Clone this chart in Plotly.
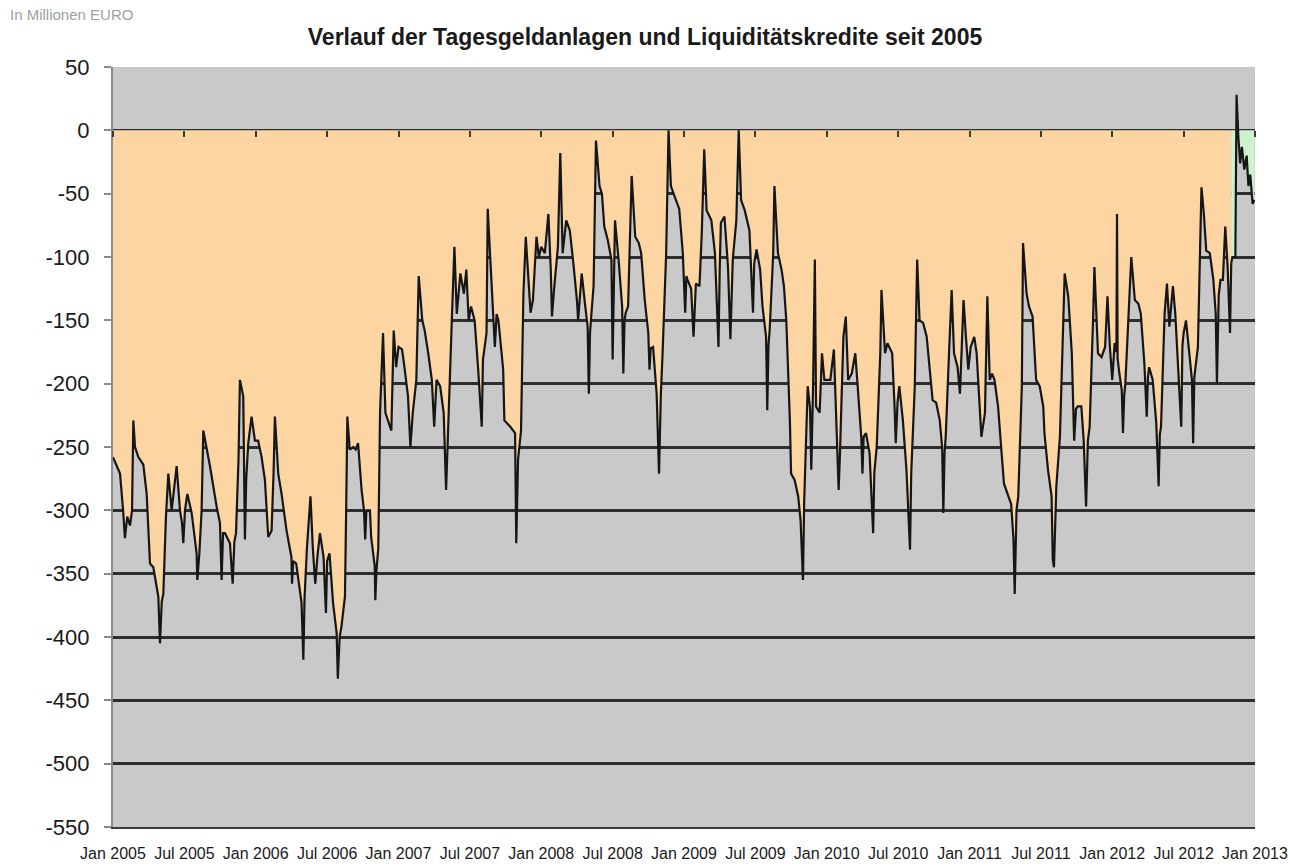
import plotly.graph_objects as go

# x = months since Jan 2005, values in million EUR
t_main = [
    0.0, 0.17, 0.59, 0.85, 1.0, 1.2, 1.43, 1.6, 1.71, 1.85, 2.13, 2.55, 2.83, 3.11, 3.39, 3.81, 3.95, 4.1,
    4.23, 4.45, 4.65, 4.93, 5.15, 5.35, 5.63, 5.8, 5.91, 6.05, 6.25, 6.61, 7.03, 7.09, 7.26, 7.45, 7.59, 7.87,
    8.15, 8.71, 8.99, 9.13, 9.25, 9.41, 9.83, 10.06, 10.2, 10.34, 10.55, 10.67, 10.95, 11.09, 11.2, 11.37,
    11.65, 11.93, 12.2, 12.49, 12.77, 13.05, 13.33, 13.5, 13.61, 13.89, 14.17, 14.59, 15.0, 15.05, 15.15,
    15.4, 15.85, 16.0, 16.1, 16.3, 16.6, 16.8, 17.0, 17.2, 17.4, 17.7, 17.9, 18.0, 18.2, 18.5, 18.8, 18.9,
    19.05, 19.2, 19.5, 19.6, 19.7, 19.9, 20.2, 20.4, 20.6, 20.9, 21.1, 21.2, 21.3, 21.6, 21.7, 22.0, 22.05,
    22.15, 22.3, 22.45, 22.7, 22.9, 23.1, 23.4, 23.6, 23.8, 24.0, 24.3, 24.5, 24.8, 25.0, 25.2, 25.5, 25.7,
    26.0, 26.2, 26.5, 26.8, 27.0, 27.2, 27.5, 27.8, 28.0, 28.2, 28.5, 28.7, 28.9, 29.2, 29.5, 29.7, 29.9,
    30.1, 30.4, 30.7, 31.0, 31.1, 31.4, 31.5, 31.7, 31.96, 32.1, 32.25, 32.4, 32.8, 32.9, 33.4, 33.8, 33.9,
    34.05, 34.3, 34.5, 34.7, 35.0, 35.1, 35.3, 35.6, 35.8, 36.0, 36.3, 36.6, 36.8, 36.9, 37.1, 37.4, 37.6,
    37.8, 38.1, 38.4, 38.7, 39.0, 39.1, 39.4, 39.7, 39.9, 40.0, 40.1, 40.2, 40.4, 40.6, 40.9, 41.1, 41.3,
    41.6, 41.9, 42.0, 42.1, 42.2, 42.5, 42.8, 42.9, 43.0, 43.1, 43.3, 43.6, 43.9, 44.2, 44.4, 44.7, 45.0,
    45.1, 45.2, 45.4, 45.7, 45.9, 46.05, 46.2, 46.5, 46.7, 46.9, 47.2, 47.6, 47.9, 48.1, 48.2, 48.3, 48.6,
    48.8, 49.0, 49.3, 49.5, 49.7, 49.9, 50.3, 50.6, 50.9, 51.0, 51.1, 51.4, 51.7, 51.9, 52.0, 52.1, 52.4,
    52.6, 52.8, 53.1, 53.5, 53.8, 53.9, 54.1, 54.4, 54.6, 54.9, 55.0, 55.1, 55.2, 55.5, 55.6, 55.9, 56.2,
    56.4, 56.6, 56.9, 57.0, 57.3, 57.6, 57.8, 58.0, 58.1, 58.4, 58.6, 58.7, 58.85, 59.0, 59.1, 59.4, 59.6,
    59.8, 60.1, 60.3, 60.6, 60.8, 60.9, 61.0, 61.1, 61.4, 61.6, 61.8, 62.1, 62.4, 62.6, 62.9, 63.0, 63.1,
    63.3, 63.6, 63.9, 64.0, 64.2, 64.5, 64.6, 64.9, 65.1, 65.5, 65.7, 65.8, 65.95, 66.1, 66.4, 66.7, 67.0,
    67.1, 67.4, 67.6, 67.8, 68.1, 68.4, 68.6, 68.9, 69.2, 69.5, 69.7, 69.8, 69.9, 70.0, 70.3, 70.5, 70.7,
    71.0, 71.2, 71.5, 71.7, 71.9, 72.1, 72.4, 72.6, 72.9, 73.0, 73.3, 73.5, 73.7, 73.9, 74.1, 74.4, 74.7,
    74.9, 75.2, 75.5, 75.7, 75.8, 75.95, 76.1, 76.4, 76.5, 76.8, 77.0, 77.3, 77.6, 77.9, 78.2, 78.3, 78.6,
    78.9, 79.0, 79.1, 79.3, 79.6, 79.75, 80.0, 80.3, 80.6, 80.8, 80.95, 81.1, 81.4, 81.6, 81.8, 81.95,
    82.1, 82.4, 82.5, 82.8, 83.1, 83.4, 83.6, 83.8, 84.0, 84.2, 84.35, 84.4, 84.45, 84.6, 84.8, 84.9,
    85.0, 85.1, 85.4, 85.6, 85.9, 86.2, 86.4, 86.7, 86.9, 87.0, 87.1, 87.4, 87.7, 87.9, 88.0, 88.1, 88.4,
    88.6, 88.8, 89.1, 89.3, 89.5, 89.8, 89.9, 90.0, 90.2, 90.4, 90.7, 90.8, 90.9, 91.0, 91.2, 91.5, 91.7,
    91.9, 92.2, 92.5, 92.7, 92.8, 92.95, 93.1, 93.3, 93.5, 93.7, 93.9, 94.0,
]
v_main = [
    -258, -262, -271, -300, -322, -305, -312, -300, -229, -250, -258, -264, -287, -342, -345, -368, -405, -372,
    -366, -305, -271, -300, -280, -265, -300, -310, -326, -300, -287, -302, -334, -355, -334, -300, -237, -250,
    -265, -297, -310, -355, -318, -318, -326, -358, -325, -318, -260, -197, -210, -323, -275, -247,
    -226, -245, -245, -258, -276, -321, -316, -270, -226, -271, -287, -316, -337, -358, -340,
    -342, -373, -418, -370, -330, -289, -330, -358, -335, -318, -337, -381, -340, -334, -373, -397, -433,
    -400, -392, -368, -300, -226, -252, -250, -252, -247, -284, -300, -323, -300, -300, -321, -344, -371,
    -347, -330, -223, -160, -223, -229, -237, -158, -187, -171, -173, -187, -210, -250, -223, -197, -115,
    -150, -158, -176, -197, -234, -197, -202, -223, -284, -234, -145, -92, -145, -113, -129, -110, -150,
    -139, -150, -189, -234, -181, -160, -62, -102, -144, -171, -145, -150, -189, -229, -234, -239, -326,
    -260, -237, -129, -84, -131, -144, -134, -84, -100, -92, -97, -66, -110, -147, -123, -92, -18,
    -97, -71, -79, -105, -134, -150, -113, -139, -155, -208, -160, -147, -123, -8, -44, -50, -76,
    -87, -102, -181, -110, -71, -102, -139, -192, -150, -144, -139, -36, -84, -89, -97, -134, -160,
    -189, -172, -171, -208, -271, -210, -176, -97, 0, -44, -52, -62, -97, -144, -115, -118, -125,
    -163, -121, -123, -80, -15, -63, -71, -97, -171, -110, -73, -68, -108, -165, -120, -102, -71,
    0, -55, -63, -79, -144, -105, -94, -110, -139, -163, -221, -170, -158, -97, -44, -97, -110,
    -123, -150, -229, -271, -276, -289, -308, -355, -294, -202, -220, -268, -202, -102, -218, -223, -176,
    -197, -197, -197, -173, -229, -260, -284, -258, -163, -147, -197, -192, -176, -202, -242, -271, -242,
    -239, -255, -318, -270, -250, -176, -126, -176, -168, -176, -218, -247, -215, -202, -229, -268, -331,
    -271, -202, -102, -150, -152, -163, -181, -213, -215, -229, -250, -302, -255, -242, -171, -126, -176,
    -187, -208, -134, -163, -189, -171, -163, -176, -229, -242, -223, -131, -197, -192, -197, -218, -255,
    -279, -287, -295, -323, -366, -300, -289, -202, -89, -129, -139, -147, -197, -202, -218, -239, -268,
    -289, -339, -345, -281, -242, -200, -113, -131, -176, -245, -220, -218, -218, -245, -297, -245,
    -234, -145, -108, -176, -179, -171, -131, -171, -197, -168, -175, -66, -180, -192, -205, -239,
    -210, -200, -145, -100, -134, -137, -145, -184, -226, -195, -187, -197, -231, -281, -240, -234, -145,
    -121, -155, -123, -145, -184, -234, -170, -160, -150, -171, -197, -247, -195, -187, -171, -45, -66,
    -95, -97, -118, -145, -200, -130, -118, -118, -76, -108, -160, -105,
]

t_end = [94.0, 94.1, 94.35, 94.45, 94.6, 94.75, 94.9, 95.1, 95.3, 95.45, 95.6, 95.8, 95.95]
v_end = [-105, -100, -100, 28, -5, -26, -13, -31, -20, -44, -35, -58, -55]

x_ticks = list(range(0, 97, 6))
x_labels = ['Jan 2005', 'Jul 2005', 'Jan 2006', 'Jul 2006', 'Jan 2007', 'Jul 2007', 'Jan 2008', 'Jul 2008',
            'Jan 2009', 'Jul 2009', 'Jan 2010', 'Jul 2010', 'Jan 2011', 'Jul 2011', 'Jan 2012', 'Jul 2012',
            'Jan 2013']
y_ticks = [50, 0, -50, -100, -150, -200, -250, -300, -350, -400, -450, -500, -550]
y_labels = ['50', '0', '-50', '-100', '-150', '-200', '-250', '-300', '-350', '-400', '-450', '-500', '-550']

FONT = 'Liberation Sans, Arial, sans-serif'

fig = go.Figure()

fig.add_trace(go.Scatter(
    x=t_main, y=v_main, mode='lines', fill='tozeroy',
    fillcolor='#FDD5A2', line=dict(color='#161616', width=2.2),
    hoverinfo='skip', showlegend=False
))
fig.add_trace(go.Scatter(
    x=t_end, y=v_end, mode='lines', fill='tozeroy',
    fillcolor='#CDF2CD', line=dict(color='#161616', width=2.2),
    hoverinfo='skip', showlegend=False
))
# helper trace so the tick axis on the zero line is drawn
fig.add_trace(go.Scatter(
    x=[x_ticks[0], x_ticks[-1]], y=[0, 0], xaxis='x2', mode='lines',
    line=dict(width=0), hoverinfo='skip', showlegend=False
))

fig.update_layout(
    width=1290, height=866,
    paper_bgcolor='white', plot_bgcolor='#C9C9C9',
    margin=dict(l=113, r=35, t=67, b=39, autoexpand=False),
    font=dict(family=FONT, color='#1a1a1a'),
    title=dict(
        text='<b>Verlauf der Tagesgeldanlagen und Liquiditätskredite seit 2005</b>',
        x=0.5, xref='container', y=1 - 37 / 866, yanchor='middle',
        font=dict(size=23, family=FONT, color='#1a1a1a')
    ),
    xaxis=dict(
        range=[0, 96], tickvals=x_ticks, ticktext=x_labels, automargin=False,
        showgrid=False, zeroline=False,
        showline=True, linecolor='#3a3a3a', linewidth=2,
        ticks='', ticklabelstandoff=11,
        tickfont=dict(size=16, family=FONT, color='#1a1a1a')
    ),
    xaxis2=dict(
        range=[0, 96], tickvals=x_ticks, overlaying='x', anchor='free',
        position=550 / 600, side='bottom', showticklabels=False, automargin=False,
        showgrid=False, zeroline=False, showline=False,
        ticks='outside', ticklen=6, tickwidth=2, tickcolor='#3a3a3a'
    ),
    yaxis=dict(
        range=[-550, 50], tickvals=y_ticks, ticktext=y_labels, automargin=False,
        showgrid=True, gridcolor='#2e2e2e', gridwidth=2.5,
        zeroline=True, zerolinecolor='#2e2e2e', zerolinewidth=2.5,
        showline=True, linecolor='#8a8a8a', linewidth=2,
        ticks='outside', ticklen=7, tickcolor='#8a8a8a', tickwidth=2,
        ticklabelstandoff=10,
        tickfont=dict(size=22, family=FONT, color='#1a1a1a')
    ),
    annotations=[dict(
        text='In Millionen EURO', xref='paper', yref='paper',
        x=(8 - 113) / 1142, y=(827 - 14) / 760, xanchor='left', yanchor='middle',
        showarrow=False, font=dict(size=15, family=FONT, color='#a0a0a0')
    )]
)

# the page body has a default 8px margin; remove it so the figure fills the window
fig.write_html('out.html', config={'displayModeBar': False},
               post_script="document.body.style.margin='0';")
